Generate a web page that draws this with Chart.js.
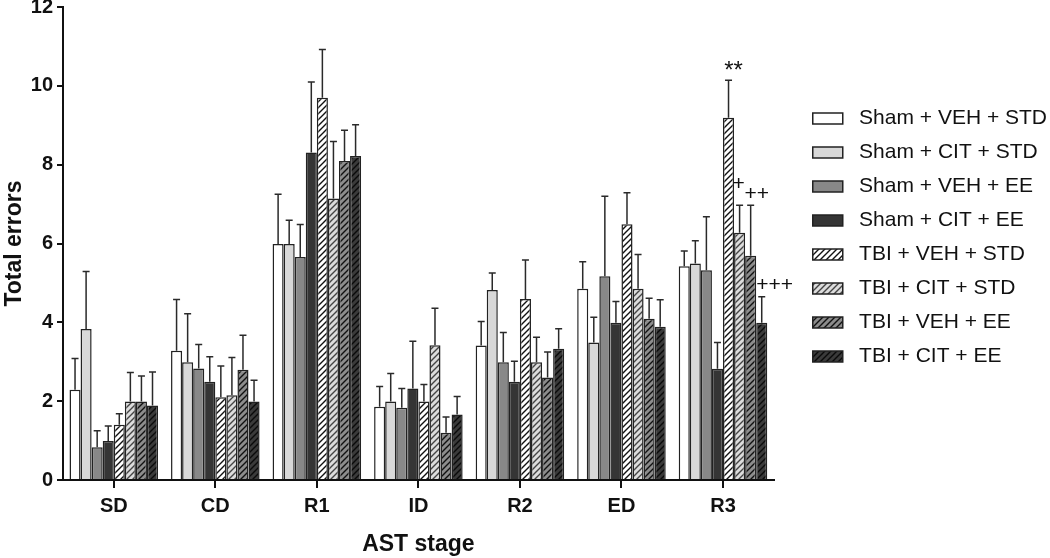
<!DOCTYPE html>
<html>
<head>
<meta charset="utf-8">
<script src="https://cdn.jsdelivr.net/npm/chart.js@4.4.0/dist/chart.umd.min.js"></script>
<style>
  html, body { margin: 0; padding: 0; background: #ffffff; }
  #wrap { width: 1050px; height: 558px; }
</style>
</head>
<body>
<div id="wrap"><canvas id="chart" width="1050" height="558"></canvas></div>
<script>
// ---------------- DATA ----------------
const categories = ['SD', 'CD', 'R1', 'ID', 'R2', 'ED', 'R3'];
const yTicks = [0, 2, 4, 6, 8, 10, 12];

const seriesNames = [
  'Sham + VEH + STD', 'Sham + CIT + STD', 'Sham + VEH + EE', 'Sham + CIT + EE',
  'TBI + VEH + STD', 'TBI + CIT + STD', 'TBI + VEH + EE', 'TBI + CIT + EE'
];

// means
const shamVehStd = [2.29, 3.28, 5.99, 1.86, 3.41, 4.85, 5.42];
const shamCitStd = [3.83, 2.99, 5.99, 1.99, 4.82, 3.49, 5.49];
const shamVehEE  = [0.83, 2.83, 5.66, 1.83, 2.99, 5.17, 5.32];
const shamCitEE  = [0.99, 2.49, 8.31, 2.32, 2.49, 3.99, 2.82];
const tbiVehStd  = [1.40, 2.10, 9.70, 1.99, 4.59, 6.49, 9.19];
const tbiCitStd  = [1.99, 2.15, 7.14, 3.42, 2.99, 4.85, 6.27];
const tbiVehEE   = [1.99, 2.80, 8.09, 1.20, 2.60, 4.09, 5.69];
const tbiCitEE   = [1.89, 1.99, 8.22, 1.66, 3.33, 3.89, 3.99];

// SEM (upper error bar length)
const shamVehStdSem = [0.79, 1.30, 1.26, 0.51, 0.61, 0.69, 0.39];
const shamCitStdSem = [1.46, 1.23, 0.60, 0.71, 0.43, 0.64, 0.58];
const shamVehEESem  = [0.42, 0.61, 0.82, 0.49, 0.75, 2.03, 1.36];
const shamCitEESem  = [0.38, 0.64, 1.79, 1.20, 0.52, 0.54, 0.67];
const tbiVehStdSem  = [0.28, 0.79, 1.22, 0.43, 0.99, 0.80, 0.95];
const tbiCitStdSem  = [0.74, 0.96, 1.45, 0.94, 0.63, 0.87, 0.70];
const tbiVehEESem   = [0.65, 0.87, 0.78, 0.40, 0.65, 0.52, 1.28];
const tbiCitEESem   = [0.85, 0.54, 0.79, 0.46, 0.51, 0.68, 0.66];

// significance marks: series index, category index, text
const marks = [
  { series: 4, category: 6, text: '**' },
  { series: 5, category: 6, text: '+' },
  { series: 6, category: 6, text: '++' },
  { series: 7, category: 6, text: '+++' }
];

// ---------------- STYLE ----------------
const FONT = "'Liberation Sans', Arial, Helvetica, sans-serif";
const INK = '#111111';
const BORDER = '#222222';

function hatch(bg, fg) {
  const s = 6;
  const c = document.createElement('canvas');
  c.width = s; c.height = s;
  const g = c.getContext('2d');
  g.fillStyle = bg; g.fillRect(0, 0, s, s);
  g.strokeStyle = fg; g.lineWidth = 1.4;
  g.beginPath();
  g.moveTo(-1, s + 1); g.lineTo(s + 1, -1);
  g.moveTo(-s / 2 - 1, s / 2 + 1); g.lineTo(s / 2 + 1, -s / 2 - 1);
  g.moveTo(s / 2 - 1, s * 1.5 + 1); g.lineTo(s * 1.5 + 1, s / 2 - 1);
  g.stroke();
  return g.createPattern(c, 'repeat');
}

const fills = [
  '#ffffff', '#d8d8d8', '#888888', '#353535',
  hatch('#ffffff', '#111111'), hatch('#dcdcdc', '#444444'),
  hatch('#8c8c8c', '#111111'), hatch('#3a3a3a', '#0a0a0a')
];

const means = [shamVehStd, shamCitStd, shamVehEE, shamCitEE, tbiVehStd, tbiCitStd, tbiVehEE, tbiCitEE];
const sems = [shamVehStdSem, shamCitStdSem, shamVehEESem, shamCitEESem, tbiVehStdSem, tbiCitStdSem, tbiVehEESem, tbiCitEESem];

const datasets = seriesNames.map((name, i) => ({
  label: name,
  data: means[i],
  errors: sems[i],
  backgroundColor: fills[i],
  borderColor: BORDER,
  borderWidth: 1.5,
  borderSkipped: 'bottom',
  categoryPercentage: 0.872,
  barPercentage: 1.0
}));

// ---------------- PLUGINS ----------------
const errorBars = {
  id: 'errorBars',
  afterDatasetsDraw(chart, args, opts) {
    const ctx = chart.ctx;
    const y = chart.scales.y;
    chart.data.datasets.forEach((ds, i) => {
      const meta = chart.getDatasetMeta(i);
      if (meta.hidden) return;
      meta.data.forEach((bar, j) => {
        const top = y.getPixelForValue(ds.data[j] + ds.errors[j]);
        ctx.save();
        ctx.strokeStyle = opts.color;
        ctx.lineWidth = opts.width;
        ctx.beginPath();
        ctx.moveTo(bar.x, bar.y);
        ctx.lineTo(bar.x, top);
        ctx.moveTo(bar.x - opts.cap / 2, top);
        ctx.lineTo(bar.x + opts.cap / 2, top);
        ctx.stroke();
        ctx.restore();
      });
    });
  }
};

const sigMarks = {
  id: 'sigMarks',
  afterDatasetsDraw(chart, args, opts) {
    const ctx = chart.ctx;
    const y = chart.scales.y;
    marks.forEach((m, k) => {
      const ds = chart.data.datasets[m.series];
      const bar = chart.getDatasetMeta(m.series).data[m.category];
      const top = y.getPixelForValue(ds.data[m.category] + ds.errors[m.category]);
      const st = opts.styles[k];
      ctx.save();
      ctx.fillStyle = INK;
      ctx.font = st.size + 'px ' + FONT;
      ctx.textAlign = 'center';
      ctx.textBaseline = 'middle';
      ctx.fillText(m.text, bar.x + st.dx, top - st.dy);
      ctx.restore();
    });
  }
};

// ---------------- CHART ----------------
new Chart(document.getElementById('chart'), {
  type: 'bar',
  data: { labels: categories, datasets },
  plugins: [errorBars, sigMarks],
  options: {
    responsive: false,
    animation: false,
    devicePixelRatio: 1,
    layout: { padding: { top: 7, left: 0, right: -7, bottom: 0 } },
    plugins: {
      tooltip: { enabled: false },
      errorBars: { color: '#2a2a2a', width: 1.5, cap: 7 },
      sigMarks: {
        styles: [
          { size: 24, dx: 5, dy: 9 },
          { size: 21, dx: -1, dy: 21 },
          { size: 21, dx: 6, dy: 11 },
          { size: 21, dx: 13, dy: 12 }
        ]
      },
      legend: {
        position: 'right',
        align: 'start',
        maxWidth: 280,
        title: { display: true, text: ' ', font: { size: 10 }, padding: { top: 76, bottom: 0 } },
        labels: {
          boxWidth: 30,
          boxHeight: 11,
          padding: 13,
          color: INK,
          font: { family: FONT, size: 21 },
          generateLabels(chart) {
            const items = Chart.defaults.plugins.legend.labels.generateLabels(chart);
            items.forEach(it => { it.text = ' ' + it.text; it.lineWidth = 1.5; });
            return items;
          }
        }
      }
    },
    scales: {
      x: {
        type: 'category',
        offset: true,
        grid: { display: true, offset: false, drawOnChartArea: false, drawTicks: true, tickLength: 8, color: INK, lineWidth: 2 },
        border: { display: true, color: INK, width: 2 },
        ticks: { color: INK, padding: 6, font: { family: FONT, size: 20, weight: 'bold' } },
        title: { display: true, text: 'AST stage', color: INK, padding: { top: 0, bottom: 0 }, font: { family: FONT, size: 23, weight: 'bold' } },
        afterFit(s) { s.height = 78; s.paddingLeft = 0; s.paddingRight = 0; }
      },
      y: {
        min: 0, max: 12,
        afterBuildTicks(s) { s.ticks = yTicks.map(v => ({ value: v })); },
        grid: { display: true, drawOnChartArea: false, drawTicks: true, tickLength: 6, color: INK, lineWidth: 2 },
        border: { display: true, color: INK, width: 2 },
        ticks: { color: INK, padding: 4, font: { family: FONT, size: 20, weight: 'bold' } },
        title: { display: true, text: 'Total errors', color: INK, padding: { top: 1, bottom: 0 }, font: { family: FONT, size: 23, weight: 'bold' } },
        afterFit(s) { s.width = 63; s.paddingTop = 0; s.paddingBottom = 0; }
      },
      spacer: {
        position: 'right',
        display: true,
        grid: { display: false },
        ticks: { display: false },
        border: { display: false },
        afterFit(s) { s.width = 26; s.paddingTop = 0; s.paddingBottom = 0; }
      }
    }
  }
});
</script>
</body>
</html>
